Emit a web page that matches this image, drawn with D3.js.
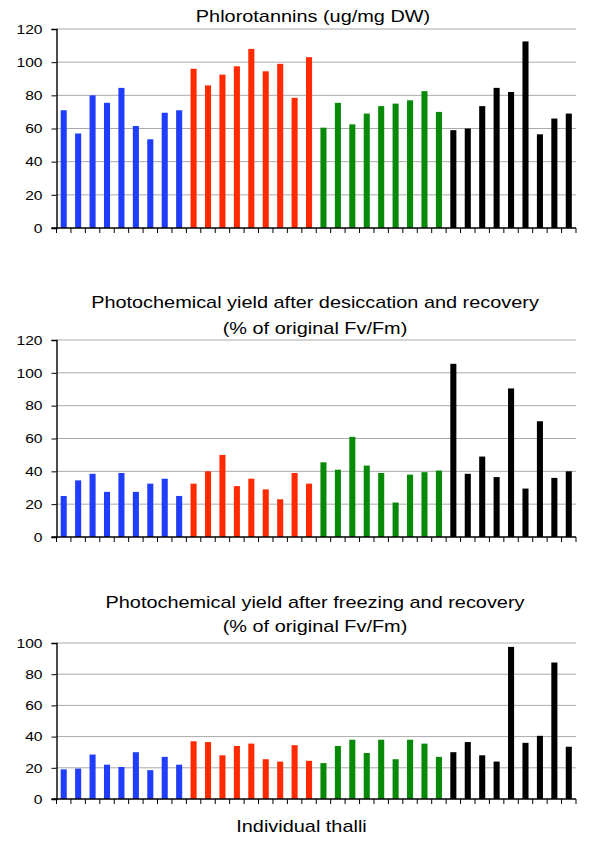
<!DOCTYPE html>
<html><head><meta charset="utf-8">
<script src="https://cdn.jsdelivr.net/npm/d3@7"></script>
<style>body{margin:0;background:#fff}svg{display:block;font-family:"Liberation Sans",Arial,Helvetica,sans-serif}</style>
</head><body><svg id="c" width="600" height="842"></svg>
<script>
const groups = ["A","B","C","D"];
const groupColors = ["#1f3dfb","#ff2a00","#078a07","#000000"];
const phlorotannins = [71,57,80,75.5,84.5,61.5,53.5,69.5,71, 96,86,92.5,97.5,108,94.5,99,78.5,103, 60.5,75.5,62.5,69,73.5,75,77,82.5,70, 59,60,73.5,84.5,82,112.5,56.5,66,69];
const desiccation = [25,34.5,38.5,27.5,39,27.5,32.5,35.5,25, 32.5,40,50,31,35.5,29,23,39,32.5, 45.5,41,61,43.5,39,21,38,39.5,40.5, 105.5,38.5,49,36.5,90.5,29.5,70.5,36,40];
const freezing = [19,19.5,28.5,22,20.5,30,18.5,27,22, 37,36.5,28,34,35.5,25.5,24,34.5,24.5, 23,34,38,29.5,38,25.5,38,35.5,27, 30,36.5,28,24,97.5,36,40.5,87.5,33.5];
const ticks1 = [0,20,40,60,80,100,120];
const ticks2 = [0,20,40,60,80,100,120];
const ticks3 = [0,20,40,60,80,100];
const titles = [["Phlorotannins (ug/mg DW)"],["Photochemical yield after desiccation and recovery","(% of original Fv/Fm)"],["Photochemical yield after freezing and recovery","(% of original Fv/Fm)"]];
const xLabel = "Individual thalli";

const svg = d3.select("#c");
const panels = [
  {data:phlorotannins, ticks:ticks1, top:29, bottom:228, titleY:[22], cx:313},
  {data:desiccation, ticks:ticks2, top:340, bottom:537, titleY:[308,334], cx:315},
  {data:freezing, ticks:ticks3, top:643, bottom:799, titleY:[608,632], cx:315}
];
const x0 = 56.5, x1 = 576;
function stretchText(sel, x, y, sx, size, anchor, txt){
  return sel.append("text").attr("transform",`translate(${x},${y}) scale(${sx},1)`)
    .attr("text-anchor",anchor).attr("font-size",size).attr("fill","#000").text(txt);
}
panels.forEach((p,pi)=>{
  const idx = d3.range(p.data.length);
  const x = d3.scaleBand().domain(idx).range([x0,x1]).paddingInner(0.58).paddingOuter(0.29);
  const xb = d3.scaleBand().domain(idx).range([x0,x1]);
  const y = d3.scaleLinear().domain([0,d3.max(p.ticks)]).range([p.bottom,p.top]);
  const g = svg.append("g");
  // gridlines
  g.selectAll("line.grid").data(p.ticks.filter(t=>t>0)).enter().append("line")
    .attr("x1",x0).attr("x2",x1).attr("y1",d=>y(d)).attr("y2",d=>y(d))
    .attr("stroke","#aaaaaa").attr("stroke-width",1);
  // bars
  g.selectAll("rect").data(p.data).enter().append("rect")
    .attr("x",(d,i)=>x(i)).attr("width",x.bandwidth())
    .attr("y",d=>y(d)).attr("height",d=>y(0)-y(d))
    .attr("fill",(d,i)=>groupColors[Math.floor(i/9)]);
  // y axis
  const ya = g.append("g").attr("transform",`translate(${x0},0)`)
    .call(d3.axisLeft(y).tickValues(p.ticks).tickSize(5).tickFormat(""));
  ya.select(".domain").attr("stroke","#000").attr("stroke-width",1.4);
  ya.selectAll(".tick line").attr("stroke","#000");
  p.ticks.forEach(t=>{
    stretchText(g, 42.5, y(t)+4.7, 1.2, 13, "end", String(t));
  });
  // x axis
  const xa = g.append("g").attr("transform",`translate(0,${p.bottom})`);
  xa.append("line").attr("x1",x0-5).attr("x2",x1).attr("stroke","#000").attr("stroke-width",1.4);
  xa.selectAll("line.t").data(d3.range(p.data.length+1)).enter().append("line")
    .attr("x1",i=>x0+i*xb.step()).attr("x2",i=>x0+i*xb.step()).attr("y1",0).attr("y2",5)
    .attr("stroke","#000").attr("stroke-width",1);
  // title
  titles[pi].forEach((t,k)=>{
    stretchText(svg, p.cx, p.titleY[k], 1.17, 17, "middle", t);
  });
});
stretchText(svg, 301.5, 832, 1.17, 17, "middle", xLabel);
</script></body></html>
